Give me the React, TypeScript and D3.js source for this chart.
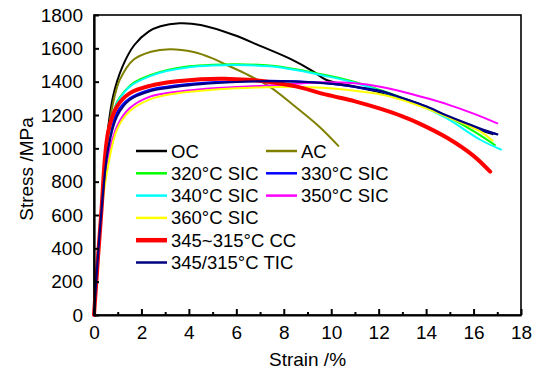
import React, { useEffect, useRef } from 'react'
import { select, scaleLinear, axisLeft, axisBottom, line, curveCatmullRom } from 'd3'

type Pt = [number, number]

// strain (%) , stress (MPa)
const oc: Pt[] = [[0, 0], [0.25, 500], [0.5, 1000], [0.8, 1310], [1.2, 1490], [1.7, 1620], [2.3, 1700], [2.8, 1732], [3.6, 1750], [4.5, 1740], [5.9, 1680], [7.0, 1615], [8.3, 1535], [9.2, 1465], [9.8, 1410], [11, 1370], [12, 1338], [13, 1298], [14, 1248], [15, 1185], [16, 1125], [16.8, 1085]]
const ac: Pt[] = [[0, 0], [0.3, 600], [0.6, 1100], [0.9, 1330], [1.1, 1415], [1.65, 1530], [2.4, 1580], [3.2, 1595], [4.2, 1578], [5.0, 1540], [5.6, 1500], [6.5, 1440], [7.4, 1370], [8.4, 1260], [9.5, 1130], [10.3, 1015]]
const sic320: Pt[] = [[0, 0], [0.3, 600], [0.6, 1055], [0.8, 1205], [1.0, 1285], [1.3, 1345], [1.65, 1392], [2.4, 1440], [3.1, 1470], [4.0, 1492], [5, 1502], [6, 1505], [7.4, 1497], [8.5, 1475], [9.8, 1438], [11, 1398], [12.06, 1350], [13, 1303], [14, 1248], [15, 1183], [16, 1103], [16.9, 1020]]
const sic330: Pt[] = [[0, 0], [0.3, 600], [0.6, 1020], [0.97, 1215], [1.5, 1300], [2.36, 1352], [3.5, 1378], [4.5, 1392], [6, 1402], [7.4, 1406], [8.5, 1402], [9.8, 1390], [11, 1368], [12.06, 1342], [13, 1300], [14, 1250], [14.9, 1190], [16.3, 1112], [16.9, 1088]]
const sic340: Pt[] = [[0, 0], [0.3, 600], [0.6, 1050], [0.8, 1200], [1.0, 1280], [1.3, 1340], [1.65, 1385], [2.4, 1435], [3.1, 1465], [4.0, 1487], [5, 1497], [6, 1500], [7.4, 1492], [8.5, 1470], [9.8, 1433], [11, 1393], [12.06, 1345], [13, 1298], [14, 1242], [14.9, 1178], [16.3, 1050], [17.15, 993]]
const sic350: Pt[] = [[0, 0], [0.3, 600], [0.6, 950], [1.0, 1140], [1.5, 1240], [2.36, 1310], [3.5, 1340], [4.5, 1355], [6, 1368], [7.4, 1377], [8.5, 1387], [9.8, 1396], [11, 1390], [12.06, 1370], [13, 1340], [14, 1302], [14.9, 1264], [16, 1208], [17.0, 1150]]
const sic360: Pt[] = [[0, 0], [0.3, 600], [0.6, 900], [0.97, 1113], [1.5, 1222], [2.36, 1294], [3.5, 1330], [4.5, 1345], [6, 1360], [7.4, 1367], [8.4, 1370], [9.8, 1362], [11, 1345], [12.06, 1325], [13, 1290], [14, 1240], [14.9, 1188], [16.3, 1100], [16.8, 1045]]
const cc: Pt[] = [[0, 0], [0.3, 600], [0.6, 1100], [0.97, 1252], [1.5, 1330], [2.36, 1375], [3.5, 1402], [4.5, 1415], [5.5, 1418], [6.5, 1411], [7.4, 1398], [8.5, 1372], [9.8, 1322], [11, 1282], [12.06, 1238], [13, 1192], [13.7, 1150], [14.9, 1062], [16, 955], [16.7, 860]]
const tic: Pt[] = [[0, 0], [0.3, 600], [0.6, 1000], [0.97, 1192], [1.5, 1290], [2.36, 1343], [3.5, 1370], [4.5, 1385], [6, 1398], [7.4, 1403], [8.5, 1400], [9.8, 1390], [11, 1370], [12.06, 1345], [13, 1302], [14, 1252], [14.9, 1195], [16.3, 1118], [17.0, 1084]]

const series = [
  { name: 'OC', temp: '', suffix: '', data: oc, color: '#000000', width: 2 },
  { name: 'AC', temp: '', suffix: '', data: ac, color: '#808000', width: 2 },
  { name: '320', temp: '°C', suffix: ' SIC', data: sic320, color: '#00ff00', width: 2 },
  { name: '330', temp: '°C', suffix: ' SIC', data: sic330, color: '#0000ff', width: 2 },
  { name: '340', temp: '°C', suffix: ' SIC', data: sic340, color: '#00ffff', width: 2 },
  { name: '350', temp: '°C', suffix: ' SIC', data: sic350, color: '#ff00ff', width: 2 },
  { name: '360', temp: '°C', suffix: ' SIC', data: sic360, color: '#ffff00', width: 2 },
  { name: '345~315', temp: '°C', suffix: ' CC', data: cc, color: '#ff0000', width: 4 },
  { name: '345/315', temp: '°C', suffix: ' TIC', data: tic, color: '#000080', width: 2.2 },
]

// legend slots: [column, row]
const legendSlots: [number, number][] = [[0, 0], [1, 0], [0, 1], [1, 1], [0, 2], [1, 2], [0, 3], [0, 4], [0, 5]]

const xTicks = [0, 2, 4, 6, 8, 10, 12, 14, 16, 18]
const xMinor = [1, 3, 5, 7, 9, 11, 13, 15, 17]
const yTicks = [0, 200, 400, 600, 800, 1000, 1200, 1400, 1600, 1800]

const W = 539
const H = 371
const left = 94
const right = 521
const top = 15
const bottom = 315

// no serif font in the sandbox, so sans sized to the original text widths
const FONT = 'Liberation Sans, Arial, sans-serif'

const App = () => {
  const xRef = useRef<SVGGElement>(null)
  const xMinorRef = useRef<SVGGElement>(null)
  const yRef = useRef<SVGGElement>(null)

  const x = scaleLinear().domain([0, 18]).range([left, right])
  const y = scaleLinear().domain([0, 1800]).range([bottom, top])
  const path = line<Pt>().x(d => x(d[0])).y(d => y(d[1])).curve(curveCatmullRom.alpha(0.5))

  useEffect(() => {
    const font = (g: any) => g.selectAll('text')
      .attr('font-family', FONT)
      .attr('font-size', 19)
      .attr('fill', '#000')

    select(xRef.current)
      .call(axisBottom(x).tickValues(xTicks).tickSizeInner(-6).tickSizeOuter(0).tickPadding(11).tickFormat(d => String(d)))
      .call(font)
      .call(g => g.select('.domain').attr('stroke-width', 2.2))
      .call(g => g.selectAll('.tick line').attr('stroke-width', 2))

    select(xMinorRef.current)
      .call(axisBottom(x).tickValues(xMinor).tickSizeInner(-3).tickSizeOuter(0).tickFormat(() => ''))
      .call(g => g.select('.domain').remove())
      .call(g => g.selectAll('.tick line').attr('stroke-width', 2))

    select(yRef.current)
      .call(axisLeft(y).tickValues(yTicks).tickSizeInner(-5).tickSizeOuter(0).tickPadding(11).tickFormat(d => String(d)))
      .call(font)
      .call(g => g.select('.domain').attr('stroke-width', 2.2))
      .call(g => g.selectAll('.tick line').attr('stroke-width', 2))
  }, [])

  return (
    <svg width={W} height={H} style={{ position: 'absolute', left: 0, top: 0, background: '#fff' }}>
      <rect x={left} y={top} width={right - left} height={bottom - top} fill="none" stroke="#000" strokeWidth={1.6} />
      <g>
        {series.map(s => (
          <path key={s.name} d={path(s.data) || ''} fill="none" stroke={s.color} strokeWidth={s.width} strokeLinejoin="round" strokeLinecap="round" />
        ))}
      </g>
      <g ref={xRef} transform={`translate(0,${bottom})`} />
      <g ref={xMinorRef} transform={`translate(0,${bottom})`} />
      <g ref={yRef} transform={`translate(${left},0)`} />

      <g fontFamily={FONT} fontSize={18.5}>
        {series.map((s, i) => {
          const [col, row] = legendSlots[i]
          const lx = col === 0 ? 136 : 266
          const ly = 151 + row * 22.3
          return (
            <g key={s.name}>
              <line x1={lx} x2={lx + 31} y1={ly} y2={ly} stroke={s.color} strokeWidth={s.width === 4 ? 4.5 : 2.5} />
              <text x={lx + 35} y={ly + 6.5}>{s.name + s.temp + s.suffix}</text>
            </g>
          )
        })}
      </g>

      <text x={(left + right) / 2} y={366} textAnchor="middle" fontFamily={FONT} fontSize={19}>Strain /%</text>
      <text transform="translate(33,169) rotate(-90)" textAnchor="middle" fontFamily={FONT} fontSize={19}>Stress /MPa</text>
    </svg>
  )
}

export default App
